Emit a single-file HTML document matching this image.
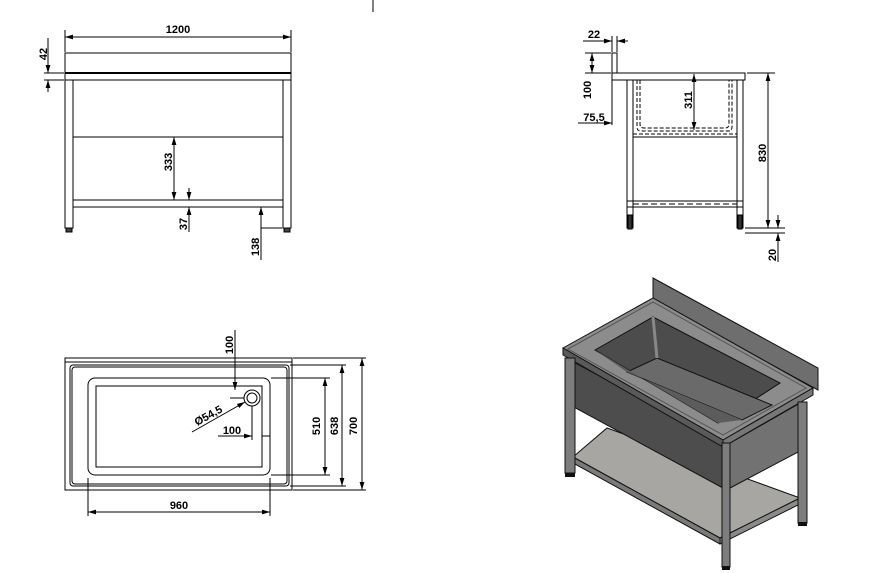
<!DOCTYPE html>
<html><head><meta charset="utf-8"><style>
html,body{margin:0;padding:0;background:#fff;}
svg{display:block;}
text{font-family:"Liberation Sans",Arial,sans-serif;font-weight:bold;font-size:11px;fill:#000;}
</style></head><body>
<svg width="881" height="573" viewBox="0 0 881 573" xmlns="http://www.w3.org/2000/svg">
<defs>
<marker id="a" viewBox="0 0 10 6" refX="10" refY="3" markerWidth="8" markerHeight="5" orient="auto-start-reverse" markerUnits="userSpaceOnUse"><path d="M0,0L10,3L0,6z" fill="#000"/></marker>
</defs>
<g stroke="#000" stroke-width="1" fill="none">
<line x1="373" y1="0" x2="373" y2="12"/>
<!-- FRONT VIEW -->
<rect x="65" y="53" width="226" height="20"/>
<line x1="65" y1="73" x2="291" y2="73" stroke-width="2"/>
<rect x="65" y="73" width="226" height="7"/>
<rect x="65" y="80" width="8" height="148"/>
<rect x="283" y="80" width="8" height="148"/>
<rect x="66" y="228" width="6" height="4" fill="#444"/>
<rect x="284" y="228" width="6" height="4" fill="#444"/>
<line x1="73" y1="137" x2="283" y2="137"/>
<rect x="73" y="200" width="210" height="7"/>
<line x1="65" y1="30" x2="65" y2="52"/><line x1="291" y1="30" x2="291" y2="52"/>
<line x1="65" y1="37" x2="291" y2="37" marker-start="url(#a)" marker-end="url(#a)"/>
<line x1="44" y1="73" x2="64" y2="73"/><line x1="44" y1="80" x2="64" y2="80"/>
<line x1="48" y1="38" x2="48" y2="73" marker-end="url(#a)"/>
<line x1="48" y1="92" x2="48" y2="80" marker-end="url(#a)"/>
<line x1="174" y1="137" x2="174" y2="200" marker-start="url(#a)" marker-end="url(#a)"/>
<line x1="189" y1="188" x2="189" y2="200" marker-end="url(#a)"/>
<line x1="189" y1="232" x2="189" y2="207" marker-end="url(#a)"/>
<line x1="261" y1="260" x2="261" y2="207" marker-end="url(#a)"/>
<line x1="261" y1="228" x2="282" y2="228"/>
<!-- SIDE VIEW -->
<rect x="612" y="53" width="5" height="20"/>
<rect x="612" y="73" width="133" height="7"/>
<rect x="627" y="80" width="6" height="148"/>
<rect x="737" y="80" width="6" height="148"/>
<rect x="628" y="215" width="4" height="14" fill="#333"/>
<rect x="738" y="215" width="4" height="14" fill="#333"/>
<path d="M637 80V127Q637 131 641 131H728Q732 131 732 127V80" stroke-dasharray="4 2"/>
<path d="M640 80V124Q640 128 644 128H725Q729 128 729 124V80" stroke-dasharray="4 2"/>
<line x1="633" y1="137" x2="737" y2="137"/>
<line x1="633" y1="134" x2="737" y2="134" stroke-dasharray="4 2"/>
<rect x="627" y="201" width="116" height="6"/>
<line x1="633" y1="204" x2="737" y2="204" stroke-dasharray="6 3"/>
<line x1="583" y1="41" x2="612" y2="41" marker-end="url(#a)"/>
<line x1="628" y1="41" x2="617" y2="41" marker-end="url(#a)"/>
<line x1="612" y1="36" x2="612" y2="52"/><line x1="617" y1="36" x2="617" y2="52"/>
<line x1="585" y1="53" x2="611" y2="53"/><line x1="585" y1="73" x2="611" y2="73"/>
<line x1="592" y1="53" x2="592" y2="73" marker-start="url(#a)" marker-end="url(#a)"/>
<line x1="612" y1="80" x2="612" y2="125"/>
<line x1="578" y1="123" x2="612" y2="123" marker-end="url(#a)"/>
<line x1="694" y1="74" x2="694" y2="130" marker-start="url(#a)" marker-end="url(#a)"/>
<line x1="747" y1="73" x2="775" y2="73"/><line x1="745" y1="228" x2="785" y2="228"/><line x1="745" y1="233" x2="785" y2="233"/>
<line x1="768" y1="73" x2="768" y2="228" marker-start="url(#a)" marker-end="url(#a)"/>
<line x1="778" y1="215" x2="778" y2="228" marker-end="url(#a)"/>
<line x1="778" y1="262" x2="778" y2="233" marker-end="url(#a)"/>
<!-- TOP VIEW -->
<rect x="65" y="358" width="227" height="132"/>
<line x1="65" y1="362" x2="292" y2="362"/>
<rect x="70" y="365" width="219" height="121" rx="3"/>
<rect x="72" y="367" width="215" height="117" rx="3"/>
<rect x="88" y="378" width="182" height="97" rx="7"/>
<rect x="96" y="386" width="166" height="81"/>
<circle cx="252" cy="398" r="8"/><circle cx="252" cy="398" r="5"/>
<line x1="88" y1="478" x2="88" y2="516"/><line x1="270" y1="478" x2="270" y2="516"/>
<line x1="88" y1="512" x2="270" y2="512" marker-start="url(#a)" marker-end="url(#a)"/>
<line x1="271" y1="378" x2="330" y2="378"/><line x1="271" y1="475" x2="330" y2="475"/>
<line x1="325" y1="378" x2="325" y2="475" marker-start="url(#a)" marker-end="url(#a)"/>
<line x1="290" y1="365" x2="346" y2="365"/><line x1="290" y1="486" x2="346" y2="486"/>
<line x1="342" y1="365" x2="342" y2="486" marker-start="url(#a)" marker-end="url(#a)"/>
<line x1="293" y1="358" x2="366" y2="358"/><line x1="293" y1="490" x2="366" y2="490"/>
<line x1="362" y1="358" x2="362" y2="490" marker-start="url(#a)" marker-end="url(#a)"/>
<line x1="235" y1="330" x2="235" y2="390" marker-end="url(#a)"/>
<line x1="230" y1="398" x2="244" y2="398"/>
<line x1="192" y1="432" x2="245" y2="402" marker-end="url(#a)"/>
<line x1="218" y1="436" x2="252" y2="436" marker-end="url(#a)"/>
<line x1="252" y1="406" x2="252" y2="440"/>
<line x1="270" y1="436" x2="262" y2="436"/>
</g>
<!-- ISOMETRIC -->
<g stroke="#111" stroke-width="1">
<polygon points="653,278 818,368 818,390 653,300" fill="#6e6e6e"/>
<polygon points="573,457 607,428 800,498 720,538" fill="#a8a6a2"/>
<polygon points="573,457 720,538 720,544 573,463" fill="#7a7a7a"/>
<polygon points="720,538 800,498 800,504 720,544" fill="#8a8a8a"/>
<polygon points="570,360 723,443 723,488 570,405" fill="#4d4d4d"/>
<polygon points="730,443 802,402 802,450 730,488" fill="#727272"/>
<polygon points="563,348 653,298 813,388 723,440" fill="#8c8c8c"/>
<polygon points="568,349 653,302 806,388 723,435" fill="none" stroke="#555"/>
<polygon points="563,348 723,440 723,447 563,355" fill="#5a5a5a"/>
<polygon points="723,440 813,388 813,395 723,447" fill="#777"/>
<polygon points="595,350 653,317 780,383 718,423" fill="#4c4c4c"/>
<polygon points="627,372 657,358 772,405 742,420" fill="#6a6a6a"/>
<line x1="653" y1="317" x2="657" y2="358" stroke="#888" stroke-width="3"/>
<polygon points="595,350 627,372 742,420 718,423" fill="#5c5c5c" stroke="none"/>
<polygon points="565,358 575,358 575,473 565,473" fill="#7d7d7d"/>
<polygon points="722,443 730,443 730,567 722,567" fill="#7d7d7d"/>
<polygon points="798,402 807,402 807,523 798,523" fill="#7d7d7d"/>
</g>
<g fill="#111"><rect x="565" y="473" width="10" height="4"/><rect x="722" y="566" width="8" height="4"/><rect x="798" y="522" width="9" height="4"/></g>
<!-- TEXT -->
<text x="178" y="33" text-anchor="middle">1200</text>
<text transform="translate(47,54) rotate(-90)" text-anchor="middle">42</text>
<text transform="translate(172,162) rotate(-90)" text-anchor="middle">333</text>
<text transform="translate(187,224) rotate(-90)" text-anchor="middle">37</text>
<text transform="translate(259,247) rotate(-90)" text-anchor="middle">138</text>
<text x="594" y="38" text-anchor="middle">22</text>
<text transform="translate(591,90) rotate(-90)" text-anchor="middle">100</text>
<text x="594" y="121" text-anchor="middle">75,5</text>
<text transform="translate(692,100) rotate(-90)" text-anchor="middle">311</text>
<text transform="translate(766,153) rotate(-90)" text-anchor="middle">830</text>
<text transform="translate(776,255) rotate(-90)" text-anchor="middle">20</text>
<text transform="translate(233,345) rotate(-90)" text-anchor="middle">100</text>
<text transform="translate(197,426) rotate(-29)">Ø54,5</text>
<text x="232" y="434" text-anchor="middle">100</text>
<text x="179" y="509" text-anchor="middle">960</text>
<text transform="translate(320,426) rotate(-90)" text-anchor="middle">510</text>
<text transform="translate(338,426) rotate(-90)" text-anchor="middle">638</text>
<text transform="translate(357,426) rotate(-90)" text-anchor="middle">700</text>
</svg>
</body></html>
